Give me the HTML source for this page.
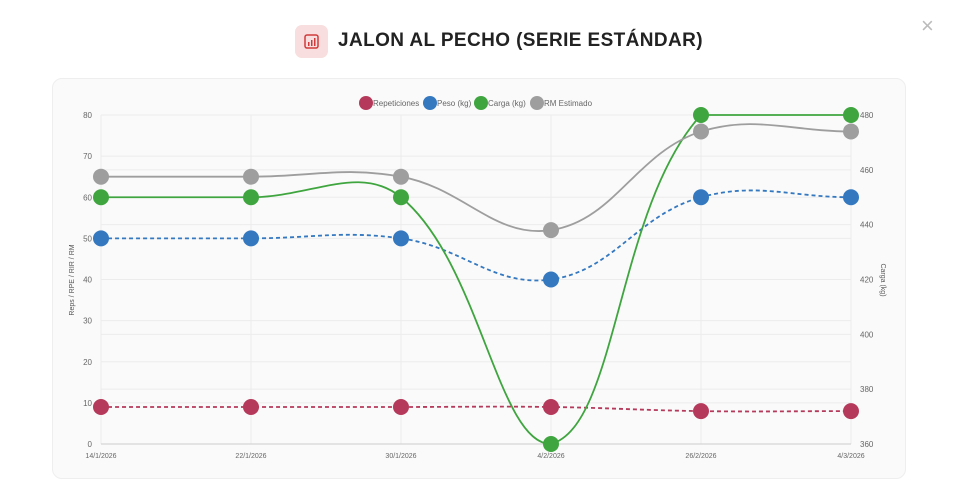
<!DOCTYPE html>
<html><head><meta charset="utf-8"><style>
body{margin:0;width:957px;height:504px;background:#fff;font-family:"Liberation Sans",sans-serif;position:relative;overflow:hidden}
#title{position:absolute;left:338px;top:30px;font-size:19px;font-weight:bold;color:#222;letter-spacing:0.4px}
#icon{position:absolute;left:295px;top:25px;width:33px;height:33px;border-radius:7px;background:#f8dede}
#close{position:absolute;left:921px;top:13px;font-size:22px;color:#bbb}
#card{position:absolute;left:52px;top:78px;width:852px;height:399px;background:#fafafa;border:1px solid #eee;border-radius:10px}
svg{position:absolute;left:0;top:0}
</style></head><body>
<div id="icon"><svg width="33" height="33"><rect x="10" y="10" width="13" height="13" rx="2" fill="none" stroke="#d03a3a" stroke-width="1.5"/><rect x="13" y="17" width="1.5" height="4" fill="#d03a3a"/><rect x="16" y="15" width="1.5" height="6" fill="#d03a3a"/><rect x="19" y="13" width="1.5" height="8" fill="#d03a3a"/></svg></div>
<div id="title">JALON AL PECHO (SERIE ESTÁNDAR)</div>
<div id="close">×</div>
<div id="card"></div>
<svg id="chart" width="957" height="504"></svg>
<script>
const labels=["14/1/2026","22/1/2026","30/1/2026","4/2/2026","26/2/2026","4/3/2026"];
const reps=[9,9,9,9,8,8];
const peso=[50,50,50,40,60,60];
const carga=[450,450,450,360,480,480];
const rm=[65,65,65,52,76,76];
const leftTicks=[0,10,20,30,40,50,60,70,80];
const rightTicks=[360,380,400,420,440,460,480];
const X0=101,X1=851,Y0=444,Y1=115;
const xs=i=>X0+(X1-X0)*i/(labels.length-1);
const yl=v=>Y0-(v-0)/(80-0)*(Y0-Y1);
const yr=v=>Y0-(v-360)/(480-360)*(Y0-Y1);
const svg=document.getElementById('chart');const NS='http://www.w3.org/2000/svg';
function el(t,a){const e=document.createElementNS(NS,t);for(const k in a)e.setAttribute(k,a[k]);svg.appendChild(e);return e;}
leftTicks.forEach(v=>{const l=el('line',{x1:X0,x2:X1,y1:yl(v),y2:yl(v),stroke:'#ececec'});


const t=el('text',{x:92,y:yl(v)+3,'font-size':8,fill:'#666','text-anchor':'end'});t.textContent=v;

});
rightTicks.forEach(v=>{const l=el('line',{x1:X0,x2:X1,y1:yr(v),y2:yr(v),stroke:'#ececec'});


const t=el('text',{x:860,y:yr(v)+3,'font-size':8,fill:'#666'});t.textContent=v;

});
labels.forEach((s,i)=>{const l=el('line',{x1:xs(i),x2:xs(i),y1:Y1,y2:Y0,stroke:'#ececec'});


const t=el('text',{x:xs(i),y:458,'font-size':7,fill:'#666','text-anchor':'middle'});t.textContent=s;

});
el('line',{x1:X0,x2:X1,y1:Y0,y2:Y0,stroke:'#ccc'});
let t1=el('text',{x:0,y:0,'font-size':7,fill:'#555','text-anchor':'middle',transform:'translate(74,280) rotate(-90)'});t1.textContent='Reps / RPE / RIR / RM';


let t2=el('text',{x:0,y:0,'font-size':7,fill:'#555','text-anchor':'middle',transform:'translate(881,280) rotate(90)'});t2.textContent='Carga (kg)';


const clampY=y=>Math.max(Y1,Math.min(Y0,y));
function spline(pts,ten){let d='M'+pts[0][0]+','+pts[0][1];const cps=[];
for(let i=0;i<pts.length;i++){const p=pts[Math.max(0,i-1)],c=pts[i],n=pts[Math.min(pts.length-1,i+1)];
const d01=Math.hypot(c[0]-p[0],c[1]-p[1]),d12=Math.hypot(n[0]-c[0],n[1]-c[1]);
let s01=d01/(d01+d12)||0,s12=d12/(d01+d12)||0;const fa=ten*s01,fb=ten*s12;
cps.push({p:[c[0]-fa*(n[0]-p[0]),clampY(c[1]-fa*(n[1]-p[1]))],n:[c[0]+fb*(n[0]-p[0]),clampY(c[1]+fb*(n[1]-p[1]))]});}
for(let i=1;i<pts.length;i++){d+=` C${cps[i-1].n[0]},${cps[i-1].n[1]} ${cps[i].p[0]},${cps[i].p[1]} ${pts[i][0]},${pts[i][1]}`;}return d;}
const series=[
{name:'reps',data:reps,y:yl,color:'#b5395a',dash:'4,3'},
{name:'peso',data:peso,y:yl,color:'#3478c0',dash:'4,3'},
{name:'carga',data:carga,y:yr,color:'#3fa53f',dash:null},
{name:'rm',data:rm,y:yl,color:'#9e9e9e',dash:null}];
series.forEach(s=>{const pts=s.data.map((v,i)=>[xs(i),s.y(v)]);
const p=el('path',{d:spline(pts,0.4),fill:'none',stroke:s.color,'stroke-width':1.8});
if(s.dash)p.setAttribute('stroke-dasharray',s.dash);

});
series.forEach(s=>{s.data.forEach((v,i)=>{const c=el('circle',{cx:xs(i),cy:s.y(v),r:8,fill:s.color});

});});
const leg=[['Repeticiones','#b5395a',366],['Peso (kg)','#3478c0',430],['Carga (kg)','#3fa53f',481],['RM Estimado','#9e9e9e',537]];
leg.forEach(l=>{const c=el('circle',{cx:l[2],cy:103,r:7,fill:l[1]});


const t=el('text',{x:l[2]+7,y:106,'font-size':8,fill:'#666'});t.textContent=l[0];

});
</script>
</body></html>
